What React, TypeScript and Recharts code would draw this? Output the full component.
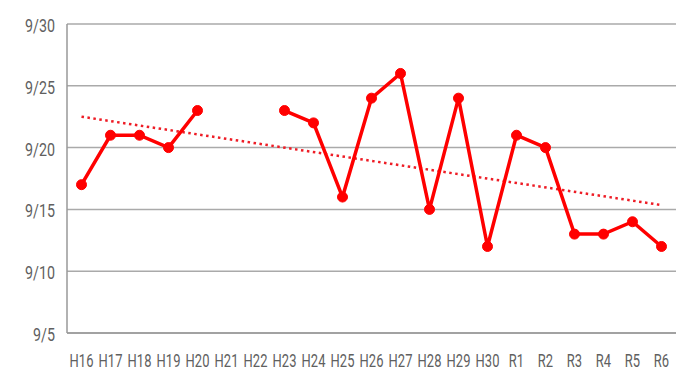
import { LineChart, Line, XAxis, YAxis, CartesianGrid } from "recharts";

const years = [
  "H16", "H17", "H18", "H19", "H20", "H21", "H22", "H23", "H24", "H25", "H26",
  "H27", "H28", "H29", "H30", "R1", "R2", "R3", "R4", "R5", "R6",
];
const days: (number | null)[] = [
  17, 21, 21, 20, 23, null, null, 23, 22, 16, 24, 26, 15, 24, 12, 21, 20, 13, 13, 14, 12,
];
// trend line: only its two ends
const trend: (number | null)[] = [
  22.5, null, null, null, null, null, null, null, null, null, null,
  null, null, null, null, null, null, null, null, null, 15.35,
];
const yTicks = [5, 10, 15, 20, 25, 30];

const data = years.map((y, i) => ({ year: y, day: days[i], trend: trend[i] }));

const FONT = "Roboto, 'Noto Sans', sans-serif";

// condensed look: squeeze the label horizontally around its anchor point
function NarrowTick(props: any) {
  const { x, y, payload, anchor, fontSize, dy, fmt, squeeze } = props;
  return (
    <g transform={`translate(${x},${y}) scale(${squeeze},1)`}>
      <text
        x={0}
        y={0}
        dy={dy}
        textAnchor={anchor}
        fontSize={fontSize}
        fontFamily={FONT}
        fill="#606060"
      >
        {fmt ? fmt(payload.value) : payload.value}
      </text>
    </g>
  );
}

export default function App() {
  return (
    <div style={{ margin: -8, width: 700, height: 381, background: "#fff" }}>
      <LineChart
        width={700}
        height={381}
        data={data}
        margin={{ top: 24, right: 24, bottom: 0, left: 0 }}
      >
        <CartesianGrid vertical={false} stroke="#aaaaaa" strokeWidth={1.5} />
        <XAxis
          dataKey="year"
          height={48}
          padding={{ left: 14.5, right: 14.5 }}
          axisLine={{ stroke: "#999999", strokeWidth: 1.5 }}
          tickLine={false}
          interval={0}
          tick={<NarrowTick anchor="middle" fontSize={18} dy={26} squeeze={0.72} />}
        />
        <YAxis
          type="number"
          domain={[5, 30]}
          ticks={yTicks}
          width={67}
          axisLine={{ stroke: "#999999", strokeWidth: 1.5 }}
          tickLine={false}
          tick={
            <NarrowTick
              anchor="end"
              fontSize={19}
              dy={8}
              squeeze={0.75}
              fmt={(v: number) => `9/${v}`}
            />
          }
          tickMargin={6}
        />
        <Line
          dataKey="trend"
          stroke="#ee1c25"
          strokeWidth={2.5}
          strokeDasharray="2.5 3.5"
          dot={false}
          connectNulls
          isAnimationActive={false}
        />
        <Line
          dataKey="day"
          stroke="#ff0000"
          strokeWidth={3.5}
          dot={{ r: 5, fill: "#ff0000", stroke: "#ff0000", strokeWidth: 1 }}
          connectNulls={false}
          isAnimationActive={false}
        />
      </LineChart>
    </div>
  );
}
